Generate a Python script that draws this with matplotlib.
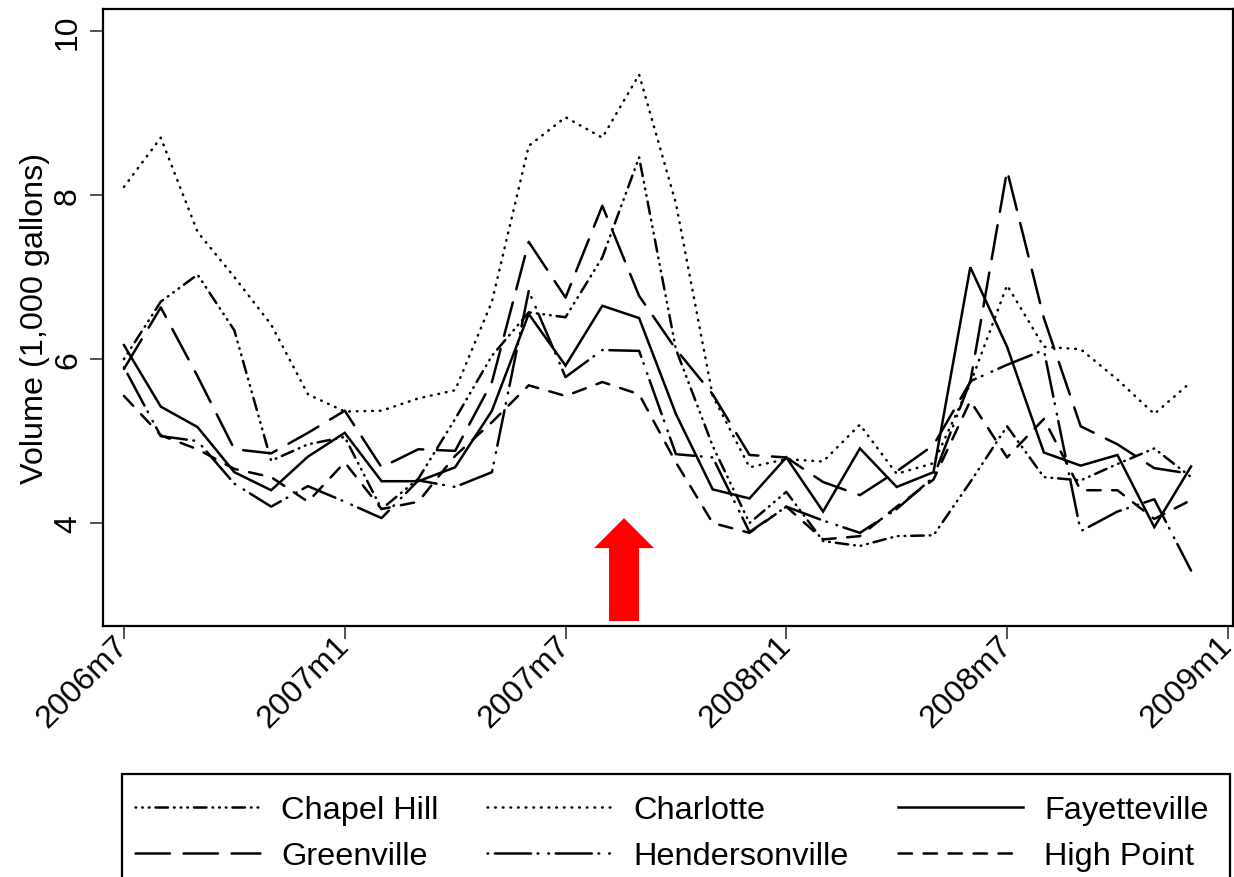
"""Monthly volume by city, black line styles with a red arrow."""

import matplotlib
matplotlib.use('Agg')
import matplotlib.pyplot as plt
from matplotlib.patches import FancyArrow, Rectangle

plt.rcParams['font.family'] = ['Liberation Sans', 'DejaVu Sans']
plt.rcParams['lines.scale_dashes'] = False
plt.rcParams['lines.dash_capstyle'] = 'round'
plt.rcParams['lines.dash_joinstyle'] = 'round'
plt.rcParams['lines.solid_joinstyle'] = 'miter'

months = list(range(30))
tick_pos = [0, 6, 12, 18, 24, 30]
tick_labels = ['2006m7', '2007m1', '2007m7', '2008m1', '2008m7', '2009m1']
y_ticks = [4, 6, 8, 10]

chapel_hill = [6.0, 6.7, 7.03, 6.35, 4.76, 4.96, 5.05, 4.17, 4.54, 5.27, 6.04, 6.57, 6.51, 7.24, 8.46,
               6.12, 4.94, 4.0, 4.38, 3.78, 3.72, 3.84, 3.85, 4.5, 5.18, 4.56, 4.52, 4.72, 4.91, 4.56]
charlotte = [8.1, 8.7, 7.55, 7.0, 6.42, 5.57, 5.36, 5.37, 5.52, 5.62, 6.7, 8.6, 8.95, 8.7, 9.47,
             7.9, 5.55, 4.68, 4.78, 4.75, 5.2, 4.6, 4.73, 5.7, 6.9, 6.15, 6.12, 5.75, 5.33, 5.72]
fayetteville = [6.17, 5.42, 5.17, 4.62, 4.4, 4.81, 5.1, 4.51, 4.51, 4.68, 5.37, 6.55, 5.92, 6.65, 6.5,
                5.33, 4.41, 4.3, 4.8, 4.14, 4.91, 4.44, 4.62, 7.12, 6.15, 4.86, 4.7, 4.83, 3.95, 4.69]
greenville = [5.88, 6.63, 5.79, 4.9, 4.85, 5.1, 5.37, 4.68, 4.9, 4.88, 5.72, 7.43, 6.75, 7.87, 6.77,
              6.12, 5.57, 4.83, 4.8, 4.5, 4.34, 4.63, 4.95, 5.72, 8.3, 6.5, 5.18, 4.96, 4.67, 4.6]
hendersonville = [5.9, 5.06, 5.0, 4.48, 4.2, 4.45, 4.26, 4.06, 4.52, 4.44, 4.62, 6.83, 5.78, 6.11, 6.1,
                  4.84, 4.8, 3.89, 4.2, 4.03, 3.88, 4.17, 4.56, 5.73, 5.93, 6.11, 3.9, 4.14, 4.29, 3.42]
high_point = [5.55, 5.07, 4.9, 4.66, 4.56, 4.26, 4.74, 4.17, 4.26, 4.82, 5.23, 5.68, 5.55, 5.72, 5.57,
              4.74, 4.0, 3.88, 4.2, 3.8, 3.84, 4.2, 4.53, 5.49, 4.8, 5.27, 4.4, 4.4, 4.05, 4.28]

# Dash patterns in points, round caps add half a line width to each end
DOT = 0.5
dots = (0, (DOT, 5))
chapel_dash = (0, (DOT, 4.3, DOT, 4.3, DOT, 4.3, 9, 4.3))
long_dash = (0, (24.8, 9.8))
hend_dash = (0, (DOT, 4.8, 26, 4.8, DOT, 7.2))
short_dash = (0, (9.7, 8.3))
LW = 1.8

# Initialize Plot
fig = plt.figure(figsize=(12.34, 8.78), dpi=100)
ax = fig.add_axes([103 / 1234, 1 - 627 / 878, 1130 / 1234, 617 / 878])

l_ch, = ax.plot(months, chapel_hill, color='k', lw=LW, ls=chapel_dash, label='Chapel Hill')
l_cl, = ax.plot(months, charlotte, color='k', lw=LW, ls=dots, label='Charlotte')
l_fa, = ax.plot(months, fayetteville, color='k', lw=LW, ls='-', label='Fayetteville')
l_gr, = ax.plot(months, greenville, color='k', lw=LW, ls=long_dash, label='Greenville')
l_he, = ax.plot(months, hendersonville, color='k', lw=LW, ls=hend_dash, label='Hendersonville')
l_hp, = ax.plot(months, high_point, color='k', lw=LW, ls=short_dash, label='High Point')

# Red arrow pointing at the event month
ax.add_patch(FancyArrow(13.59, 2.805, 0, 1.255, width=0.815, head_width=1.63, head_length=0.366,
                        length_includes_head=True, color='#ff0000', lw=0))

# Set plot limits
ax.set_xlim([-0.57, 30.14])
ax.set_ylim([2.744, 10.27])

# Ticks
ax.set_xticks(tick_pos)
ax.set_xticklabels(tick_labels, rotation=45, ha='right', va='center', rotation_mode='anchor', fontsize=23)
ax.set_yticks(y_ticks)
ax.set_yticklabels([str(y) for y in y_ticks], rotation=90, va='center', fontsize=23)
ax.tick_params(axis='both', length=9.4, width=1.1, color='#222222')
ax.tick_params(axis='x', pad=1)
ax.tick_params(axis='y', pad=5)
ax.set_ylabel('Volume (1,000 gallons)', fontsize=23.3, labelpad=2.5)
for spine in ax.spines.values():
    spine.set_linewidth(1.6)

# Legend box runs off the bottom of the image, so draw it apart from the legend
fig.add_artist(Rectangle((122 / 1234, -0.02), 1108 / 1234, 1 - 775 / 878 + 0.02, transform=fig.transFigure,
                         facecolor='white', edgecolor='k', lw=1.6))

# Legend fills by column, so pass the handles in that order
handles = [l_ch, l_gr, l_cl, l_he, l_fa, l_hp]
fig.legend(handles=handles, ncol=3, loc='upper left', bbox_to_anchor=(135 / 1234, 1 - 796 / 878),
           fontsize=23.4, frameon=False, handlelength=3.85, handletextpad=0.65, columnspacing=1.5,
           borderpad=0, labelspacing=0.5, borderaxespad=0)

fig.savefig('out.png', dpi=100)
